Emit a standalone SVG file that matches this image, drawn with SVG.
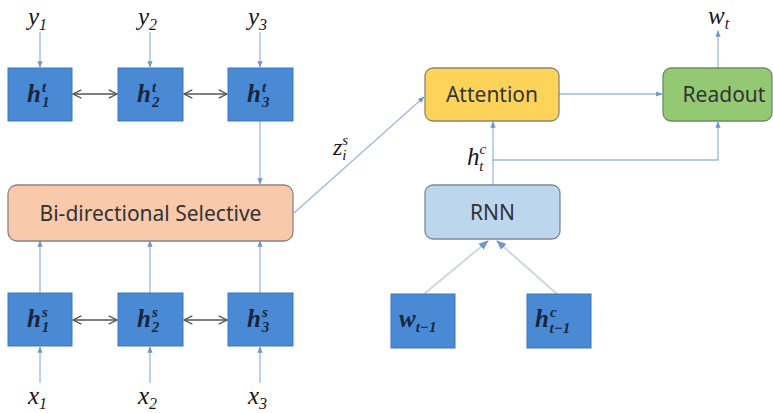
<svg xmlns="http://www.w3.org/2000/svg" width="773" height="413" viewBox="0 0 773 413">
  <style>
    .blk { fill: #4a8ad4; stroke: #3f77ba; stroke-width: 1; }
    .math { font-family: "Liberation Serif", "DejaVu Serif", serif; font-style: italic; fill: #1a1a1a; }
    .inmath { font-family: "Liberation Serif", "DejaVu Serif", serif; font-style: italic; font-weight: bold; fill: #17263d; }
    .lbl { font-family: "Noto Sans", "Liberation Sans", sans-serif; fill: #333; }
    .flow { stroke: #9bb8dc; stroke-width: 1.3; fill: none; }
    .link { stroke: #555; stroke-width: 1.3; fill: none; }
    .feed { stroke: #d0d6de; stroke-width: 2; fill: none; }
  </style>
  <defs>
    <marker id="ab" viewBox="0 0 10 10" refX="9" refY="5" markerWidth="5" markerHeight="5" orient="auto">
      <path d="M0,1 L10,5 L0,9 z" fill="#6f97c8"/>
    </marker>
    <marker id="av" viewBox="0 0 10 10" refX="9" refY="5" markerWidth="8" markerHeight="8" orient="auto-start-reverse">
      <path d="M1,1 L9,5 L1,9" fill="none" stroke="#555" stroke-width="1.3"/>
    </marker>
  </defs>

  <!-- connectors -->
  <g id="connectors">
    <path class="flow" d="M40,32 V67" marker-end="url(#ab)"/>
    <path class="flow" d="M150,32 V67" marker-end="url(#ab)"/>
    <path class="flow" d="M260,32 V67" marker-end="url(#ab)"/>
    <path class="link" d="M73,94 H117" marker-start="url(#av)" marker-end="url(#av)"/>
    <path class="link" d="M184,94 H227" marker-start="url(#av)" marker-end="url(#av)"/>
    <path class="flow" d="M260,121 V184" marker-end="url(#ab)"/>
    <path class="flow" d="M40,293 V241" marker-end="url(#ab)"/>
    <path class="flow" d="M150,293 V241" marker-end="url(#ab)"/>
    <path class="flow" d="M260,293 V241" marker-end="url(#ab)"/>
    <path class="link" d="M73,320 H117" marker-start="url(#av)" marker-end="url(#av)"/>
    <path class="link" d="M184,320 H227" marker-start="url(#av)" marker-end="url(#av)"/>
    <path class="flow" d="M40,383 V347" marker-end="url(#ab)"/>
    <path class="flow" d="M150,383 V347" marker-end="url(#ab)"/>
    <path class="flow" d="M260,383 V347" marker-end="url(#ab)"/>
    <path class="flow" d="M294,213 L424,97" stroke="#c8d4e4" marker-end="url(#ab)"/>
    <path class="flow" d="M559,94 H662" marker-end="url(#ab)"/>
    <path class="flow" d="M718,68 V31" marker-end="url(#ab)"/>
    <path class="flow" d="M493,185 V122" marker-end="url(#ab)"/>
    <path class="flow" d="M493,160 H718 V122" marker-end="url(#ab)"/>
    <path class="feed" d="M424,294 L488,241" marker-end="url(#ab)"/>
    <path class="feed" d="M557,294 L497,241" marker-end="url(#ab)"/>
  </g>

  <!-- output labels -->
  <text class="math" x="28" y="25" font-size="25">y<tspan font-size="16" dy="5">1</tspan></text>
  <text class="math" x="138" y="25" font-size="25">y<tspan font-size="16" dy="5">2</tspan></text>
  <text class="math" x="248" y="25" font-size="25">y<tspan font-size="16" dy="5">3</tspan></text>

  <!-- target-side states -->
  <g id="ht1"><rect class="blk" x="8" y="68" width="64" height="53"/>
    <text class="inmath" x="27" y="102" font-size="25">h<tspan font-size="15" dx="1" dy="-10">t</tspan><tspan font-size="15" dx="-4" dy="15">1</tspan></text></g>
  <g id="ht2"><rect class="blk" x="118" y="68" width="65" height="53"/>
    <text class="inmath" x="137" y="102" font-size="25">h<tspan font-size="15" dx="1" dy="-10">t</tspan><tspan font-size="15" dx="-4" dy="15">2</tspan></text></g>
  <g id="ht3"><rect class="blk" x="228" y="68" width="65" height="53"/>
    <text class="inmath" x="247" y="102" font-size="25">h<tspan font-size="15" dx="1" dy="-10">t</tspan><tspan font-size="15" dx="-4" dy="15">3</tspan></text></g>

  <!-- selective layer -->
  <g id="selective"><rect x="8" y="185" width="285" height="56" rx="9" fill="#f8c9aa" stroke="#8a8480" stroke-width="1.3"/>
    <text class="lbl" x="150.5" y="221" font-size="21" text-anchor="middle">Bi-directional Selective</text></g>

  <!-- source-side states -->
  <g id="hs1"><rect class="blk" x="8" y="293" width="64" height="53"/>
    <text class="inmath" x="27" y="327" font-size="25">h<tspan font-size="15" dx="1" dy="-10">s</tspan><tspan font-size="15" dx="-6" dy="15">1</tspan></text></g>
  <g id="hs2"><rect class="blk" x="118" y="293" width="65" height="53"/>
    <text class="inmath" x="137" y="327" font-size="25">h<tspan font-size="15" dx="1" dy="-10">s</tspan><tspan font-size="15" dx="-6" dy="15">2</tspan></text></g>
  <g id="hs3"><rect class="blk" x="228" y="293" width="65" height="53"/>
    <text class="inmath" x="247" y="327" font-size="25">h<tspan font-size="15" dx="1" dy="-10">s</tspan><tspan font-size="15" dx="-6" dy="15">3</tspan></text></g>

  <!-- input labels -->
  <text class="math" x="28" y="404" font-size="25">x<tspan font-size="16" dy="5">1</tspan></text>
  <text class="math" x="138" y="404" font-size="25">x<tspan font-size="16" dy="5">2</tspan></text>
  <text class="math" x="248" y="404" font-size="25">x<tspan font-size="16" dy="5">3</tspan></text>

  <!-- context vector label -->
  <text class="math" x="333" y="155" font-size="24">z<tspan font-size="15" dy="-10">s</tspan><tspan font-size="15" dx="-6" dy="15">i</tspan></text>

  <!-- decoder -->
  <g id="attention"><rect x="425" y="68" width="134" height="53" rx="8" fill="#fdd35a" stroke="#8c8570" stroke-width="1.3"/>
    <text class="lbl" x="492" y="102" font-size="21" text-anchor="middle">Attention</text></g>
  <g id="readout"><rect x="663" y="68" width="109" height="53" rx="8" fill="#93c972" stroke="#6f8a66" stroke-width="1.3"/>
    <text class="lbl" x="724" y="102" font-size="21" text-anchor="middle">Readout</text></g>
  <text class="math" x="708" y="24" font-size="25">w<tspan font-size="16" dy="5">t</tspan></text>
  <text class="math" x="467" y="165" font-size="25">h<tspan font-size="15" dy="-11">c</tspan><tspan font-size="15" dx="-7" dy="17">t</tspan></text>
  <g id="rnn"><rect x="425" y="185" width="135" height="54" rx="8" fill="#bcd6ee" stroke="#7d8894" stroke-width="1.3"/>
    <text class="lbl" x="492.5" y="220" font-size="21" text-anchor="middle">RNN</text></g>
  <g id="wprev"><rect class="blk" x="391" y="294" width="64" height="54"/>
    <text class="inmath" x="399" y="327" font-size="25">w<tspan font-size="15" dy="5">t−1</tspan></text></g>
  <g id="hprev"><rect class="blk" x="527" y="294" width="64" height="54"/>
    <text class="inmath" x="535" y="327" font-size="25">h<tspan font-size="15" dx="1" dy="-10">c</tspan><tspan font-size="15" dx="-7" dy="16">t−1</tspan></text></g>
</svg>
